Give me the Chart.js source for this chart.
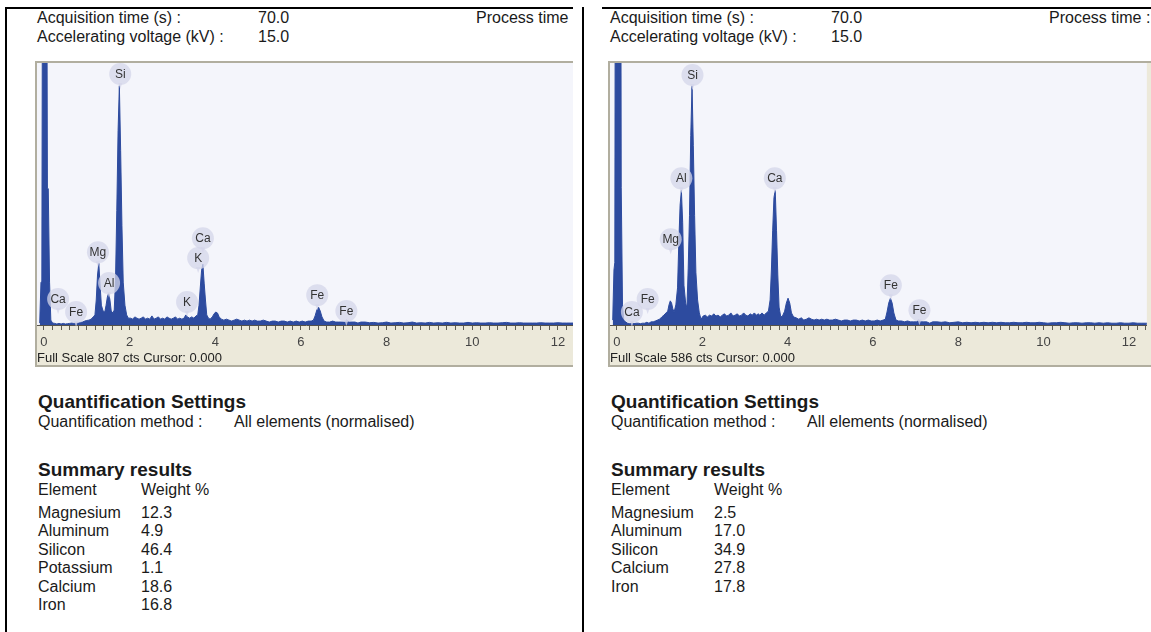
<!DOCTYPE html>
<html>
<head>
<meta charset="utf-8">
<script src="https://cdn.jsdelivr.net/npm/chart.js@4.4.1/dist/chart.umd.min.js"></script>
<style>
  html, body { margin: 0; padding: 0; background: #fff; }
  body { width: 1151px; height: 632px; position: relative; overflow: hidden;
         font-family: "Liberation Sans", Arial, sans-serif; color: #1a1a1a; }
  .panel { position: absolute; top: 0; height: 632px; overflow: hidden; }
  .t { position: absolute; white-space: nowrap; font-size: 16px; line-height: 18px; }
  .b { font-weight: bold; font-size: 19px; }
  .rule { position: absolute; background: #000; }
  .plot { position: absolute; top: 61px; height: 306px; }
</style>
</head>
<body>
<div class="rule" style="left:5px;top:7px;width:568px;height:2px"></div>
<div class="rule" style="left:602px;top:7px;width:549px;height:2px"></div>
<div class="rule" style="left:5px;top:7px;width:2px;height:625px"></div>
<div class="rule" style="left:582px;top:7px;width:2px;height:625px"></div>

<div class="panel" id="panelL" style="left:0;width:573px">
  <div class="plot" style="left:35px;width:540px"><canvas id="chartL"></canvas></div>
</div>
<div class="panel" id="panelR" style="left:602px;width:549px">
  <div class="plot" style="left:6px;width:543px"><canvas id="chartR"></canvas></div>
</div>

<script>
// EDS spectra, two samples. x = energy (keV), y = counts

// shared energy grid (keV)
var energy = [
  -0.10, -0.07, -0.05, -0.03, 0.00, 0.03, 0.06, 0.08, 0.10, 0.13, 0.16, 0.20,
  0.25, 0.30, 0.35, 0.40, 0.45, 0.50, 0.55, 0.60, 0.65, 0.70, 0.75, 0.80, 0.85, 0.90, 0.95, 1.00, 1.05, 1.10, 1.15,
  1.19, 1.22, 1.25, 1.28, 1.31, 1.34, 1.38, 1.42, 1.45, 1.48, 1.51, 1.54, 1.57, 1.61, 1.64, 1.67, 1.70, 1.73, 1.76, 1.79, 1.82, 1.85, 1.89, 1.93, 1.97,
  2.02, 2.07, 2.12, 2.17, 2.22, 2.27, 2.32, 2.37, 2.42, 2.47, 2.52, 2.57, 2.62, 2.67, 2.72, 2.77, 2.82, 2.87, 2.92, 2.97, 3.02, 3.07, 3.12, 3.17, 3.22, 3.27,
  3.31, 3.35, 3.40, 3.45, 3.50, 3.55, 3.59, 3.62, 3.65, 3.68, 3.71, 3.74, 3.77, 3.80, 3.84, 3.88, 3.93, 3.97, 4.01, 4.05, 4.09, 4.14,
  4.20, 4.26, 4.32, 4.38, 4.44, 4.50, 4.56, 4.62, 4.68, 4.74, 4.80, 4.86, 4.92, 4.98, 5.05, 5.12, 5.19, 5.26, 5.33, 5.40, 5.47, 5.54, 5.61, 5.68, 5.75, 5.82, 5.89, 5.96, 6.03, 6.10, 6.17, 6.24,
  6.29, 6.33, 6.37, 6.41, 6.45, 6.49, 6.54, 6.60, 6.67, 6.74, 6.81, 6.88, 6.95, 7.02, 7.07, 7.12, 7.19, 7.26, 7.33, 7.40,
  7.50, 7.60, 7.70, 7.80, 7.90, 8.00, 8.10, 8.20, 8.30, 8.40,
  8.50, 8.60, 8.70, 8.80, 8.90, 9.00, 9.10, 9.20, 9.30, 9.40,
  9.50, 9.60, 9.70, 9.80, 9.90, 10.00, 10.10, 10.20, 10.30, 10.40,
  10.50, 10.60, 10.70, 10.80, 10.90, 11.00, 11.10, 11.20, 11.30, 11.40,
  11.50, 11.60, 11.70, 11.80, 11.90, 12.00, 12.10, 12.20, 12.30, 12.40, 12.50
];

// left sample, full scale 807 cts
var countsL = [
  6, 132, 132, 1500, 1500, 1500, 1500, 420, 420, 132, 15, 6,
  5, 3, 5, 3, 5, 3, 4, 5, 6, 5, 6, 6, 8, 9, 12, 14, 15, 18, 25,
  31, 77, 154, 190, 123, 61, 43, 40, 61, 86, 98, 77, 43, 37, 46, 138, 353, 599, 737, 537, 307, 132, 61, 31, 21,
  21, 18, 25, 21, 18, 21, 25, 18, 21, 18, 28, 18, 21, 25, 18, 21, 18, 25, 21, 18, 21, 25, 18, 21, 18, 21,
  31, 25, 21, 25, 21, 28, 31, 61, 117, 169, 187, 129, 77, 31, 21, 18, 25, 34, 40, 37, 25, 18,
  15, 18, 15, 12, 15, 18, 15, 12, 15, 12, 15, 12, 15, 12, 12, 15, 12, 9, 12, 12, 9, 12, 12, 9, 12, 9, 12, 9, 12, 9, 12, 12,
  15, 28, 46, 55, 43, 25, 12, 9, 9, 12, 9, 9, 9, 9, 15, 9, 9, 9, 6, 9,
  9, 7, 8, 6, 7, 9, 6, 7, 8, 6,
  7, 9, 6, 7, 6, 8, 6, 7, 6, 8,
  6, 7, 6, 6, 8, 6, 7, 6, 6, 7,
  6, 6, 7, 8, 6, 6, 7, 6, 6, 6,
  6, 7, 6, 6, 6, 7, 6, 6, 6, 6, 6
];

// right sample, full scale 586 cts
var countsR = [
  11, 123, 140, 1500, 1500, 1500, 1500, 1500, 308, 45, 11, 7,
  4, 3, 4, 3, 4, 4, 3, 4, 4, 6, 4, 7, 7, 9, 11, 13, 18, 22, 27,
  31, 45, 54, 49, 36, 29, 45, 83, 185, 268, 301, 230, 89, 49, 38, 127, 245, 424, 535, 401, 245, 118, 56, 27, 13,
  20, 22, 18, 22, 20, 25, 20, 22, 18, 22, 25, 20, 22, 27, 20, 22, 25, 20, 22, 27, 22, 20, 25, 22, 27, 22,
  25, 22, 27, 22, 27, 31, 56, 123, 212, 285, 301, 212, 112, 40, 18, 20, 31, 49, 60, 49, 27, 18,
  16, 13, 16, 11, 13, 16, 13, 11, 13, 11, 13, 11, 13, 11, 11, 13, 11, 9, 11, 11, 9, 11, 11, 9, 11, 9, 11, 9, 9, 11, 9, 11,
  13, 29, 49, 60, 49, 27, 11, 9, 9, 7, 9, 7, 7, 7, 11, 7, 7, 7, 4, 7,
  7, 6, 7, 5, 6, 7, 5, 6, 5, 6,
  5, 6, 5, 6, 5, 6, 5, 5, 6, 5,
  5, 6, 5, 5, 6, 5, 4, 5, 5, 6,
  5, 4, 5, 5, 4, 5, 5, 4, 5, 4,
  5, 4, 4, 5, 4, 4, 5, 4, 4, 4, 4
];

var fullScaleL = 807;
var fullScaleR = 586;
var xTickLabels = [0, 2, 4, 6, 8, 10, 12];

// peak markers: element, keV, counts (where the bubble sits)
var tagNamesL = ['Si', 'Mg', 'Al', 'Ca', 'Fe', 'K', 'Ca', 'K', 'Fe', 'Fe'];
var tagKeVL   = [1.78, 1.26, 1.52, 0.33, 0.75, 3.34, 3.71, 3.60, 6.38, 7.06];
var tagCtsL   = [773, 224, 129, 80, 40, 71, 267, 206, 92, 43];
var tagNamesR = ['Si', 'Al', 'Mg', 'Ca', 'Fe', 'Ca', 'Fe', 'Fe'];
var tagKeVR   = [1.77, 1.51, 1.26, 3.70, 0.72, 0.35, 6.42, 7.09];
var tagCtsR   = [559, 328, 192, 328, 58, 29, 89, 33];

// summary results, weight %
var elementsL = ['Magnesium', 'Aluminum', 'Silicon', 'Potassium', 'Calcium', 'Iron'];
var weightsL  = ['12.3', '4.9', '46.4', '1.1', '18.6', '16.8'];
var elementsR = ['Magnesium', 'Aluminum', 'Silicon', 'Calcium', 'Iron'];
var weightsR  = ['2.5', '17.0', '34.9', '27.8', '17.8'];

var FONT = '"Liberation Sans", Arial, sans-serif';
var BLUE = '#2d4b9f';

function addText(panel, x, y, text, cls) {
  var d = document.createElement('div');
  d.className = 't' + (cls ? ' ' + cls : '');
  d.style.left = x + 'px';
  d.style.top = y + 'px';
  d.textContent = text;
  panel.appendChild(d);
}

function buildText(panel, ox, elements, weights) {
  addText(panel, ox, 9, 'Acquisition time (s) :');
  addText(panel, ox + 221, 9, '70.0');
  addText(panel, ox + 439, 9, 'Process time :');
  addText(panel, ox, 28, 'Accelerating voltage (kV) :');
  addText(panel, ox + 221, 28, '15.0');
  addText(panel, ox + 1, 393, 'Quantification Settings', 'b');
  addText(panel, ox + 1, 413, 'Quantification method :');
  addText(panel, ox + 197, 413, 'All elements (normalised)');
  addText(panel, ox + 1, 461, 'Summary results', 'b');
  addText(panel, ox + 1, 481, 'Element');
  addText(panel, ox + 104, 481, 'Weight %');
  for (var i = 0; i < elements.length; i++) {
    addText(panel, ox + 1, 504 + i * 18.4, elements[i]);
    addText(panel, ox + 104, 504 + i * 18.4, weights[i]);
  }
}

// frame, plot background and beige axis strip
var framePlugin = {
  id: 'frame',
  beforeDraw: function (chart) {
    var c = chart.ctx, a = chart.chartArea, w = chart.width, h = chart.height;
    c.save();
    c.fillStyle = '#ece9da';
    c.fillRect(0, 0, w, h);
    c.fillStyle = '#f4f5fb';
    c.fillRect(a.left, a.top, a.right - a.left, a.bottom - a.top);
    c.strokeStyle = '#b1ae9f';
    c.lineWidth = 2;
    c.beginPath();
    c.moveTo(w + 2, 1); c.lineTo(1, 1); c.lineTo(1, h - 1); c.lineTo(w + 2, h - 1);
    c.stroke();
    c.restore();
  }
};

function tagPlugin(names, keV, cts) {
  return {
    id: 'tags',
    afterDatasetsDraw: function (chart) {
      var c = chart.ctx, xs = chart.scales.x, ys = chart.scales.y;
      c.save();
      c.font = '12px ' + FONT;
      c.textAlign = 'center';
      c.textBaseline = 'middle';
      for (var i = 0; i < names.length; i++) {
        var px = xs.getPixelForValue(keV[i]), py = ys.getPixelForValue(cts[i]);
        c.fillStyle = 'rgba(212,213,234,0.75)';
        c.beginPath(); c.arc(px, py, 11, 0, Math.PI * 2); c.fill();
        c.beginPath(); c.moveTo(px - 2, py + 9); c.lineTo(px, py + 15); c.lineTo(px + 2, py + 9); c.fill();
        c.fillStyle = '#333';
        c.fillText(names[i], px, py + 0.5);
      }
      c.restore();
    }
  };
}

function makeChart(id, counts, fullScale, keVMax, names, keV, cts) {
  var pts = energy.map(function (e, i) { return { x: e, y: counts[i] }; });
  return new Chart(document.getElementById(id), {
    type: 'line',
    data: { datasets: [{ data: pts, borderColor: BLUE, backgroundColor: BLUE, borderWidth: 1,
                         fill: 'origin', pointRadius: 0, tension: 0 }] },
    options: {
      responsive: true, maintainAspectRatio: false, animation: false,
      layout: { padding: { left: 2, top: 2, right: 0, bottom: 0 } },
      plugins: { legend: { display: false }, tooltip: { enabled: false } },
      scales: {
        x: {
          type: 'linear', min: -0.163, max: keVMax,
          afterFit: function (s) { s.height = 42; },
          border: { display: true, color: '#55524a', width: 1 },
          grid: { drawOnChartArea: false, drawTicks: true, tickLength: 5, tickColor: '#5f5c52' },
          ticks: {
            stepSize: 0.2, maxTicksLimit: 200, includeBounds: false, autoSkip: false, maxRotation: 0,
            padding: 5, color: '#444', font: { family: FONT, size: 13 },
            callback: function (v) {
              var r = Math.round(v * 10) / 10;
              return xTickLabels.indexOf(r) >= 0 ? String(r) : '';
            }
          },
          title: { display: true, text: 'Full Scale ' + fullScale + ' cts Cursor: 0.000', align: 'start',
                   color: '#222', font: { family: FONT, size: 13 }, padding: { top: 0, bottom: 1 } }
        },
        y: { display: false, min: 0, max: fullScale }
      }
    },
    plugins: [framePlugin, tagPlugin(names, keV, cts)]
  });
}

buildText(document.getElementById('panelL'), 37, elementsL, weightsL);
buildText(document.getElementById('panelR'), 8, elementsR, weightsR);

makeChart('chartL', countsL, fullScaleL, 12.398, tagNamesL, tagKeVL, tagCtsL);
makeChart('chartR', countsR, fullScaleR, 12.42, tagNamesR, tagKeVR, tagCtsR);
</script>
</body>
</html>
